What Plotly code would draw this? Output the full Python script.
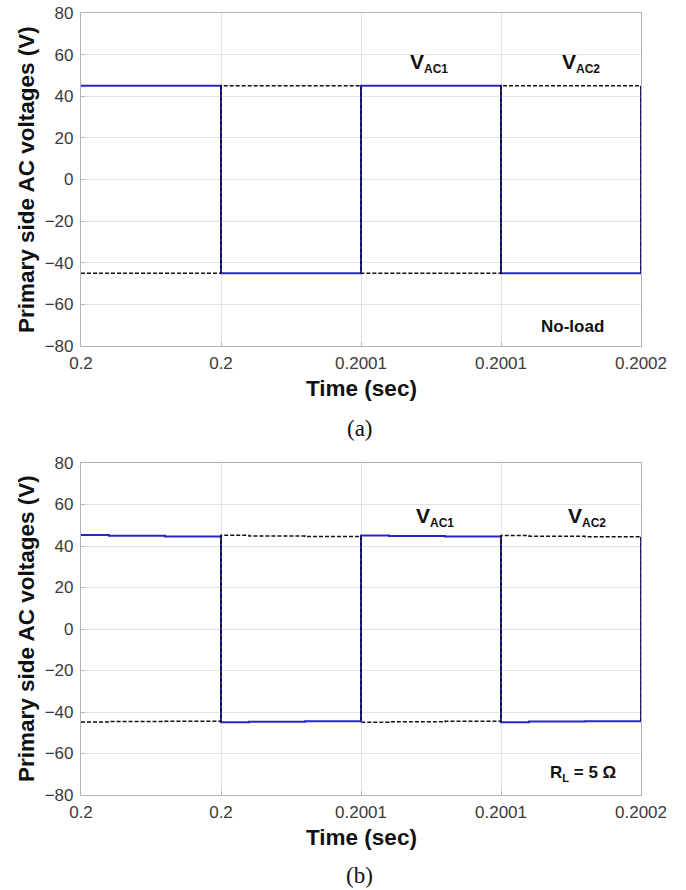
import plotly.graph_objects as go

# ---- data ----
t_noload = [0.2, 0.20005, 0.2001, 0.20015, 0.2002]
vac1_noload = [45, -45, 45, -45, 45]
vac2_noload = [-45, 45, -45, 45, -45]

t_load = [0.2, 0.20001, 0.20003, 0.20005, 0.20006, 0.20008, 0.2001, 0.20011, 0.20013, 0.20015, 0.20016, 0.20018, 0.2002]
vac1_load = [45.3, 44.9, 44.6, -44.9, -44.7, -44.5, 45.0, 44.8, 44.6, -44.9, -44.6, -44.4, 44.5]
vac2_load = [-44.8, -44.6, -44.5, 45.2, 44.8, 44.6, -44.9, -44.7, -44.5, 45.0, 44.7, 44.5, -44.5]

x_tickvals = [0.2, 0.20005, 0.2001, 0.20015, 0.2002]
x_ticktext = ["0.2", "0.2", "0.2001", "0.2001", "0.2002"]
y_tickvals = [-80, -60, -40, -20, 0, 20, 40, 60, 80]

BLUE = "#2626c8"
W, H = 686, 890
SANS = "Liberation Sans, Arial, Helvetica"

fig = go.Figure()

panels = [
    (t_noload, vac1_noload, vac2_noload, "x", "y"),
    (t_load, vac1_load, vac2_load, "x2", "y2"),
]
for t, v1, v2, xa, ya in panels:
    fig.add_trace(go.Scatter(x=t, y=v1, mode="lines", line=dict(color=BLUE, width=2, shape="hv"),
                             xaxis=xa, yaxis=ya, showlegend=False, name="VAC1"))
    fig.add_trace(go.Scatter(x=t, y=v2, mode="lines", line=dict(color="#111111", width=1.5, dash="4px,2px", shape="hv"),
                             xaxis=xa, yaxis=ya, showlegend=False, name="VAC2"))

def px2x(p):
    return p / W

def py2y(p):
    return 1 - p / H

xdom = [px2x(81), px2x(641)]
ydom1 = [py2y(346), py2y(13)]
ydom2 = [py2y(795), py2y(463)]

tickfont = dict(family=SANS, size=17, color="#3a3a3a")
common_x = dict(range=[0.2, 0.2002], tickvals=x_tickvals, ticktext=x_ticktext,
                showgrid=True, gridcolor="#e2e2e2", gridwidth=1, zeroline=False,
                showline=True, linecolor="#b4b4b4", linewidth=1.2, mirror=True,
                ticks="inside", ticklen=4, tickcolor="#b4b4b4",
                tickfont=tickfont, automargin=False, ticklabelstandoff=1)
common_y = dict(range=[-80, 80], tickvals=y_tickvals,
                showgrid=True, gridcolor="#e2e2e2", gridwidth=1, zeroline=False,
                showline=True, linecolor="#b4b4b4", linewidth=1.2, mirror=True,
                ticks="inside", ticklen=4, tickcolor="#b4b4b4",
                tickfont=tickfont, automargin=False, ticklabelstandoff=3)

fig.update_layout(
    width=W, height=H,
    margin=dict(l=0, r=0, t=0, b=0),
    paper_bgcolor="white", plot_bgcolor="white",
    xaxis=dict(domain=xdom, anchor="y", **common_x),
    yaxis=dict(domain=ydom1, anchor="x", **common_y),
    xaxis2=dict(domain=xdom, anchor="y2", **common_x),
    yaxis2=dict(domain=ydom2, anchor="x2", **common_y),
)

bold = dict(family=SANS, size=22.5, color="#111111")
serif = dict(family="Liberation Serif, Times New Roman", size=23, color="#111111")
ann = []
for ycen_title, ycen_plot, cap, cap_y in [(388, 180, "(a)", 428), (837, 629, "(b)", 875)]:
    ann.append(dict(text="<b>Time (sec)</b>", x=px2x(361), y=py2y(ycen_title), xref="paper", yref="paper",
                    showarrow=False, font=bold, xanchor="center", yanchor="middle"))
    ann.append(dict(text="<b>Primary side AC voltages (V)</b>", x=px2x(26), y=py2y(ycen_plot), xref="paper", yref="paper",
                    showarrow=False, font=bold, textangle=-90, xanchor="center", yanchor="middle"))
    ann.append(dict(text=cap, x=px2x(360), y=py2y(cap_y), xref="paper", yref="paper", showarrow=False,
                    font=serif, xanchor="center", yanchor="middle"))

lab = dict(family=SANS, size=21, color="#111111")
def vlab(sub):
    return "<b>V</b><sub><span style='font-size:12px'><b>%s</b></span></sub>" % sub

ann.append(dict(text=vlab("AC1"), x=0.2001243, y=56, xref="x", yref="y", showarrow=False, font=lab))
ann.append(dict(text=vlab("AC2"), x=0.2001786, y=56, xref="x", yref="y", showarrow=False, font=lab))
ann.append(dict(text="<b>No-load</b>", x=0.2001757, y=-70.5, xref="x", yref="y", showarrow=False,
                font=dict(family=SANS, size=17, color="#111111")))
ann.append(dict(text=vlab("AC1"), x=0.2001264, y=54, xref="x2", yref="y2", showarrow=False, font=lab))
ann.append(dict(text=vlab("AC2"), x=0.2001807, y=54, xref="x2", yref="y2", showarrow=False, font=lab))
ann.append(dict(text="<b>R</b><sub><span style='font-size:11px'><b>L</b></span></sub><b> = 5 Ω</b>",
                x=0.2001793, y=-69.4, xref="x2", yref="y2", showarrow=False,
                font=dict(family=SANS, size=17, color="#111111")))

fig.update_layout(annotations=ann)
fig.write_html("out.html")
